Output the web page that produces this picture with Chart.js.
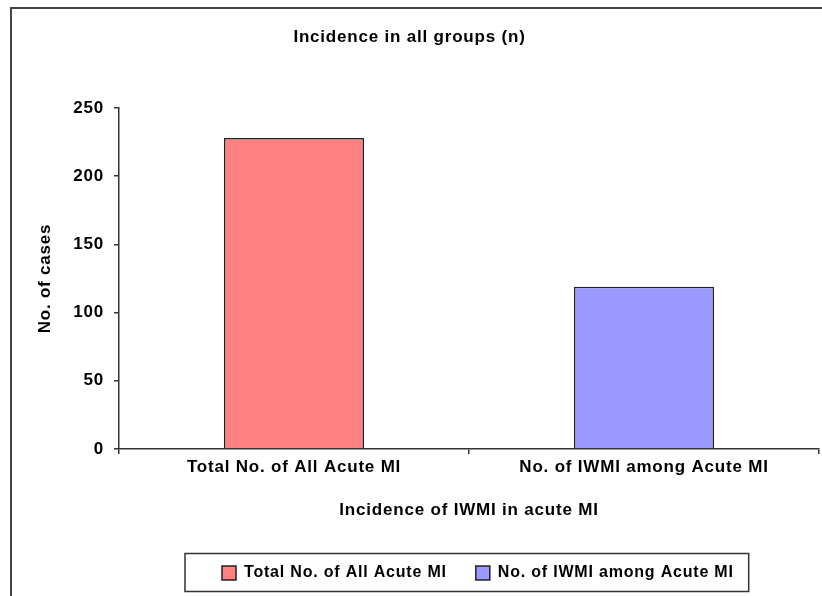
<!DOCTYPE html>
<html>
<head>
<meta charset="utf-8">
<title>Incidence in all groups (n)</title>
<script src="https://cdn.jsdelivr.net/npm/chart.js@4.4.1/dist/chart.umd.min.js"></script>
<style>
    body { margin: 0; background: #ffffff; }
    #wrap { width: 822px; height: 596px; position: relative; }
</style>
</head>
<body>
<div id="wrap"><canvas id="incidenceChart"></canvas></div>
<script>
// ================= DATA =================
const categories = ['Total No. of All Acute MI', 'No. of IWMI among Acute MI'];
const caseCounts = [228, 119];
const barColors = ['#FF8080', '#9999FF'];
const yTicks = [0, 50, 100, 150, 200, 250];

const FONT = "'Liberation Sans', Arial, sans-serif";

// wide looking text like the original picture
const spacingPlugin = {
    id: 'spacing',
    beforeLayout(chart) { chart.ctx.letterSpacing = '0.8px'; },
    beforeDraw(chart) { chart.ctx.letterSpacing = '0.8px'; }
};

// outer frame of the chart (runs off the right and bottom edge)
const framePlugin = {
    id: 'frame',
    beforeDraw(chart) {
        const ctx = chart.ctx;
        ctx.save();
        ctx.strokeStyle = '#444';
        ctx.lineWidth = 2;
        ctx.strokeRect(11, 8, 900, 700);
        ctx.restore();
    }
};

// move legend so first swatch sits at x=222, then box it
const legendBoxPlugin = {
    id: 'legendBox',
    afterLayout(chart) {
        const lg = chart.legend;
        const pad = lg.options.labels.padding;
        const start = (lg.left + pad + lg.right - lg.lineWidths[0]) / 2;
        const dx = 222 - start;
        lg.left += dx;
        lg.right += dx;
    },
    afterDraw(chart) {
        const boxes = chart.legend.legendHitBoxes;
        if (!boxes || !boxes.length) return;
        const first = boxes[0];
        const last = boxes[boxes.length - 1];
        const x0 = first.left - 37;
        const x1 = last.left + last.width + 15;
        const ctx = chart.ctx;
        ctx.save();
        ctx.strokeStyle = '#333';
        ctx.lineWidth = 1.5;
        ctx.strokeRect(x0, first.top - 11.5, x1 - x0, 38);
        ctx.restore();
    }
};

// one dataset per bar so each gets a legend entry
const datasets = categories.map((name, i) => ({
    label: name,
    data: caseCounts.map((v, j) => (j === i ? v : null)),
    backgroundColor: barColors[i],
    borderColor: '#222',
    borderWidth: 1.5,
    barPercentage: 0.4,
    categoryPercentage: 1
}));

new Chart(document.getElementById('incidenceChart'), {
    type: 'bar',
    data: {
        labels: categories,
        datasets: datasets
    },
    options: {
        responsive: true,
        maintainAspectRatio: false,
        animation: false,
        skipNull: true,
        layout: { padding: { left: 0, right: 3, top: 0, bottom: 5 } },
        plugins: {
            title: {
                display: true,
                text: 'Incidence in all groups (n)',
                color: '#000',
                font: { family: FONT, size: 17, weight: 'bold' },
                padding: { top: 26.8, bottom: 60.8 }
            },
            legend: {
                display: true,
                position: 'bottom',
                labels: {
                    color: '#000',
                    boxWidth: 14,
                    boxHeight: 14,
                    padding: 29,
                    font: { family: FONT, size: 16, weight: 'bold' }
                }
            },
            tooltip: { enabled: false }
        },
        scales: {
            x: {
                afterFit(scale) { scale.height = 87; },
                border: { color: '#333', width: 1.5 },
                grid: {
                    display: true,
                    drawOnChartArea: false,
                    drawTicks: true,
                    tickLength: 5,
                    color: '#333',
                    lineWidth: 1.5
                },
                ticks: {
                    color: '#000',
                    padding: 3,
                    maxRotation: 0,
                    font: { family: FONT, size: 17, weight: 'bold' }
                },
                title: {
                    display: true,
                    text: 'Incidence of IWMI in acute MI',
                    color: '#000',
                    font: { family: FONT, size: 17, weight: 'bold' },
                    padding: { top: 4, bottom: 15.8 }
                }
            },
            y: {
                min: 0,
                max: 250,
                afterFit(scale) { scale.width = 119; },
                afterBuildTicks(scale) { scale.ticks = yTicks.map(v => ({ value: v })); },
                border: { color: '#333', width: 1.5 },
                grid: {
                    display: true,
                    drawOnChartArea: false,
                    drawTicks: true,
                    tickLength: 5,
                    color: '#333',
                    lineWidth: 1.5
                },
                ticks: {
                    color: '#000',
                    padding: 10,
                    font: { family: FONT, size: 17, weight: 'bold' }
                },
                title: {
                    display: true,
                    text: 'No. of cases',
                    color: '#000',
                    font: { family: FONT, size: 17, weight: 'bold' },
                    padding: { top: 34.8, bottom: 4 }
                }
            }
        }
    },
    plugins: [spacingPlugin, framePlugin, legendBoxPlugin]
});
</script>
</body>
</html>
